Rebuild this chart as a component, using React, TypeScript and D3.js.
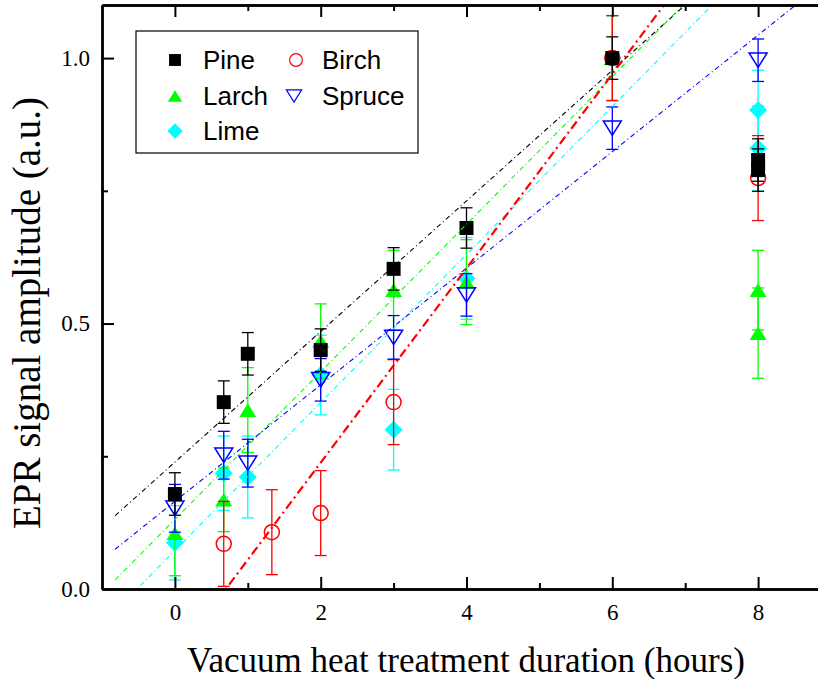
import React, { useEffect, useRef } from "react";
import * as d3 from "d3";

// --- data ---
const X_TICKS = [0, 2, 4, 6, 8];
const X_MINOR = [1, 3, 5, 7];
const Y_TICKS = [0, 0.5, 1.0];
const Y_MINOR = [0.25, 0.75];

const PINE_X = [0, 0.67, 1, 2, 3, 4, 6, 8, 8];
const PINE_Y = [0.179, 0.352, 0.443, 0.45, 0.603, 0.68, 1.0, 0.808, 0.789];
const PINE_ERR = [0.04, 0.04, 0.04, 0.04, 0.04, 0.038, 0.04, 0.04, 0.04];

const LARCH_X = [0, 0.67, 1, 2, 3, 4, 6, 8, 8];
const LARCH_Y = [0.105, 0.168, 0.337, 0.467, 0.563, 0.578, 1.0, 0.563, 0.482];
const LARCH_ERR = [0.08, 0.06, 0.08, 0.07, 0.075, 0.08, 0.08, 0.075, 0.085];

const LIME_X = [0, 0.67, 1, 2, 3, 4, 6, 8, 8];
const LIME_Y = [0.087, 0.218, 0.211, 0.403, 0.3, 0.585, 1.0, 0.902, 0.83];
const LIME_ERR = [0.07, 0.07, 0.077, 0.075, 0.076, 0.077, 0.08, 0.075, 0.08];

const BIRCH_X = [0.67, 1.33, 2, 3, 6, 8];
const BIRCH_Y = [0.085, 0.107, 0.143, 0.352, 1.0, 0.774];
const BIRCH_ERR = [0.08, 0.08, 0.08, 0.08, 0.08, 0.08];

const SPRUCE_X = [0, 0.67, 1, 2, 3, 4, 6, 8];
const SPRUCE_Y = [0.152, 0.252, 0.237, 0.394, 0.474, 0.554, 0.868, 0.996];
const SPRUCE_ERR = [0.045, 0.045, 0.045, 0.04, 0.041, 0.04, 0.04, 0.04];

// linear fits: [intercept, slope]
const FIT_PINE = [0.239, 0.123];
const FIT_LARCH = [0.131, 0.139];
const FIT_LIME = [0.0725, 0.1394];
const FIT_BIRCH = [-0.128, 0.183];
const FIT_SPRUCE = [0.165, 0.1098];

const W = 818;
const H = 679;

function markerPath(shape: string, s: number) {
  const h = s * 0.8;
  switch (shape) {
    case "square":
      return `M${-s / 2},${-s / 2}h${s}v${s}h${-s}Z`;
    case "up":
      return `M0,${-h / 2}L${s / 2},${h / 2}L${-s / 2},${h / 2}Z`;
    case "down":
      return `M${-s / 2},${-h / 2}L${s / 2},${-h / 2}L0,${h / 2}Z`;
    case "diamond":
      return `M0,${-s / 2}L${s / 2},0L0,${s / 2}L${-s / 2},0Z`;
    default:
      return d3.arc()({ innerRadius: 0, outerRadius: s / 2, startAngle: 0, endAngle: 2 * Math.PI }) as string;
  }
}

export default function App() {
  const ref = useRef<SVGSVGElement>(null);

  useEffect(() => {
    const svg = d3.select(ref.current);
    svg.selectAll("*").remove();

    const x = d3.scaleLinear().domain([-1, 9]).range([102, 831]);
    const y = d3.scaleLinear().domain([0, 1.1]).range([589, 5]);

    const series = [
      { name: "Lime", xs: LIME_X, ys: LIME_Y, err: LIME_ERR, color: "#00ffff", shape: "diamond", size: 18, filled: true },
      { name: "Larch", xs: LARCH_X, ys: LARCH_Y, err: LARCH_ERR, color: "#00ff00", shape: "up", size: 17, filled: true },
      { name: "Birch", xs: BIRCH_X, ys: BIRCH_Y, err: BIRCH_ERR, color: "#ff0000", shape: "circle", size: 15, filled: false },
      { name: "Spruce", xs: SPRUCE_X, ys: SPRUCE_Y, err: SPRUCE_ERR, color: "#0000ff", shape: "down", size: 18, filled: false },
      { name: "Pine", xs: PINE_X, ys: PINE_Y, err: PINE_ERR, color: "#000000", shape: "square", size: 14, filled: true },
    ];

    const fits = [
      { fit: FIT_PINE, color: "#000000", width: 1.1, dash: "5,3,1,3" },
      { fit: FIT_LARCH, color: "#00ff00", width: 1.1, dash: "5,3,1,3" },
      { fit: FIT_LIME, color: "#00ffff", width: 1.1, dash: "5,3,1,3" },
      { fit: FIT_SPRUCE, color: "#0000ff", width: 1.1, dash: "5,3,1,3" },
      { fit: FIT_BIRCH, color: "#ff0000", width: 2.2, dash: "9,4,2,4" },
    ];

    svg
      .append("defs")
      .append("clipPath")
      .attr("id", "plotclip")
      .append("rect")
      .attr("x", 102)
      .attr("y", 5)
      .attr("width", 729)
      .attr("height", 584);

    // error bars + markers
    series.forEach((s) => {
      const g = svg.append("g");
      const pts = s.xs.map((xv, i) => ({ x: xv, y: s.ys[i], e: s.err[i] }));
      pts.forEach((p) => {
        const cx = x(p.x);
        g.append("line")
          .attr("x1", cx).attr("x2", cx)
          .attr("y1", y(p.y - p.e)).attr("y2", y(p.y + p.e))
          .attr("stroke", s.color).attr("stroke-width", 1.3);
        [p.y - p.e, p.y + p.e].forEach((v) => {
          g.append("line")
            .attr("x1", cx - 6).attr("x2", cx + 6)
            .attr("y1", y(v)).attr("y2", y(v))
            .attr("stroke", s.color).attr("stroke-width", 1.3);
        });
      });
      pts.forEach((p) => {
        g.append("path")
          .attr("d", markerPath(s.shape, s.size))
          .attr("transform", `translate(${x(p.x)},${y(p.y)})`)
          .attr("fill", s.filled ? s.color : "white")
          .attr("fill-opacity", s.filled ? 1 : 0)
          .attr("stroke", s.color)
          .attr("stroke-width", s.filled ? 0 : 1.5);
      });
    });

    // linear fits
    const fg = svg.append("g").attr("clip-path", "url(#plotclip)");
    fits.forEach((f) => {
      const xs = [-0.82, 9];
      fg.append("path")
        .attr("d", d3.line<number>().x((d) => x(d)).y((d) => y(f.fit[0] + f.fit[1] * d))(xs) as string)
        .attr("fill", "none")
        .attr("stroke", f.color)
        .attr("stroke-width", f.width)
        .attr("stroke-dasharray", f.dash);
    });

    // axes
    const axisFont = "'Liberation Serif', 'Times New Roman', serif";
    const styleAxis = (g: any) => {
      g.select(".domain").attr("stroke-width", 2.4);
      g.selectAll(".tick line").attr("stroke-width", 2);
      g.selectAll(".tick text").attr("font-family", axisFont).attr("font-size", 23).attr("fill", "#000");
    };
    svg.append("g").attr("transform", "translate(0,589)")
      .call(d3.axisBottom(x).tickValues(X_TICKS).tickSize(-12).tickSizeOuter(0).tickPadding(15).tickFormat(d3.format("d")))
      .call(styleAxis);
    svg.append("g").attr("transform", "translate(0,589)")
      .call(d3.axisBottom(x).tickValues(X_MINOR).tickSize(-6).tickSizeOuter(0).tickFormat(() => ""))
      .call(styleAxis);
    svg.append("g").attr("transform", "translate(0,5)")
      .call(d3.axisTop(x).tickValues(X_TICKS).tickSize(-12).tickSizeOuter(0).tickFormat(() => ""))
      .call(styleAxis);
    svg.append("g").attr("transform", "translate(0,5)")
      .call(d3.axisTop(x).tickValues(X_MINOR).tickSize(-6).tickSizeOuter(0).tickFormat(() => ""))
      .call(styleAxis);
    svg.append("g").attr("transform", "translate(102,0)")
      .call(d3.axisLeft(y).tickValues(Y_TICKS).tickSize(-12).tickSizeOuter(0).tickPadding(12).tickFormat(d3.format(".1f")))
      .call(styleAxis);
    svg.append("g").attr("transform", "translate(102,0)")
      .call(d3.axisLeft(y).tickValues(Y_MINOR).tickSize(-6).tickSizeOuter(0).tickFormat(() => ""))
      .call(styleAxis);
    svg.append("g").attr("transform", "translate(831,0)")
      .call(d3.axisRight(y).tickValues(Y_TICKS).tickSize(-12).tickSizeOuter(0).tickFormat(() => ""))
      .call(styleAxis);
    svg.append("g").attr("transform", "translate(831,0)")
      .call(d3.axisRight(y).tickValues(Y_MINOR).tickSize(-6).tickSizeOuter(0).tickFormat(() => ""))
      .call(styleAxis);

    // axis titles
    svg.append("text")
      .attr("x", 466).attr("y", 672)
      .attr("text-anchor", "middle")
      .attr("font-family", axisFont).attr("font-size", 35)
      .text("Vacuum heat treatment duration (hours)");
    svg.append("text")
      .attr("transform", "translate(40,313) rotate(-90)")
      .attr("text-anchor", "middle")
      .attr("font-family", axisFont).attr("font-size", 39)
      .text("EPR signal amplitude (a.u.)");

    // legend
    const lg = svg.append("g");
    lg.append("rect")
      .attr("x", 136).attr("y", 31).attr("width", 282).attr("height", 122)
      .attr("fill", "white").attr("stroke", "#000").attr("stroke-width", 1.2);
    const legendItems = [
      { s: series[4], mx: 175, my: 60 },
      { s: series[1], mx: 175, my: 96 },
      { s: series[0], mx: 175, my: 131 },
      { s: series[2], mx: 296, my: 60 },
      { s: series[3], mx: 294, my: 96 },
    ];
    legendItems.forEach(({ s, mx, my }) => {
      lg.append("path")
        .attr("d", markerPath(s.shape, s.size * 0.85))
        .attr("transform", `translate(${mx},${my})`)
        .attr("fill", s.filled ? s.color : "none")
        .attr("stroke", s.color)
        .attr("stroke-width", s.filled ? 0 : 1.2);
      lg.append("text")
        .attr("x", mx < 250 ? 203 : 322)
        .attr("y", my)
        .attr("dy", "0.36em")
        .attr("font-family", "'Liberation Sans', Arial, sans-serif")
        .attr("font-size", 26)
        .text(s.name);
    });
  }, []);

  return (
    <svg
      ref={ref}
      width={W}
      height={H}
      style={{ position: "absolute", left: 0, top: 0, background: "white" }}
    ></svg>
  );
}
